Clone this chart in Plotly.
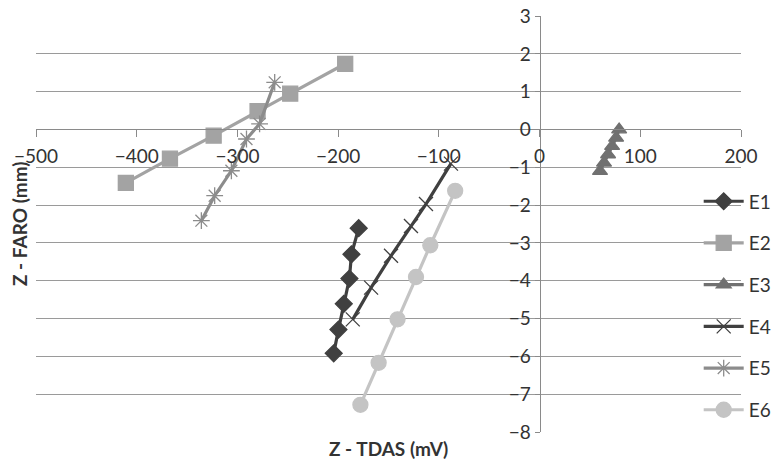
import plotly.graph_objects as go

# ---- data ----
e1_x = [-179.6, -186.8, -188.8, -194.4, -199.7, -204.4]
e1_y = [-2.61, -3.30, -3.94, -4.61, -5.29, -5.92]

e2_x = [-410.8, -367.0, -323.6, -280.0, -247.6, -193.0]
e2_y = [-1.41, -0.77, -0.16, 0.49, 0.95, 1.74]

e3_x = [79.0, 76.0, 72.0, 68.0, 64.0, 60.0]
e3_y = [0.0, -0.22, -0.44, -0.66, -0.88, -1.10]

e4_x = [-185.5, -167.3, -147.5, -127.7, -112.8, -88.0]
e4_y = [-5.02, -4.18, -3.34, -2.55, -1.97, -0.90]

e5_x = [-335.8, -322.6, -306.0, -291.0, -278.0, -263.0]
e5_y = [-2.41, -1.75, -1.09, -0.25, 0.15, 1.25]

e6_x = [-177.9, -159.8, -141.0, -122.7, -108.5, -83.8]
e6_y = [-7.28, -6.17, -5.02, -3.90, -3.06, -1.62]

names = ["E1", "E2", "E3", "E4", "E5", "E6"]
xs = [e1_x, e2_x, e3_x, e4_x, e5_x, e6_x]
ys = [e1_y, e2_y, e3_y, e4_y, e5_y, e6_y]

x_range = [-500, 200]
y_range = [-8, 3]

# ---- styles ----
colors = ["#404040", "#a3a3a3", "#707070", "#404040", "#8c8c8c", "#c4c4c4"]
symbols = ["diamond", "square", "triangle-up", "x-thin-open", "asterisk-open", "circle"]
msizes = [13, 15, 13, 14, 14, 15]

FONT = "Lato"
TXT = "#333333"

fig = go.Figure()
for n, x, y, c, s, ms in zip(names, xs, ys, colors, symbols, msizes):
    fig.add_trace(go.Scatter(
        x=x, y=y, name=n, mode="lines+markers", legendgroup=n,
        line=dict(color=c, width=3.2),
        marker=dict(symbol=s, size=ms, color=c, line=dict(color=c, width=1.3)),
    ))

fig.update_layout(
    width=771, height=463,
    margin=dict(l=36, r=30, t=16, b=31, autoexpand=False),
    paper_bgcolor="white", plot_bgcolor="white",
    font=dict(family=FONT, size=19, color=TXT),
    showlegend=True,
    legend=dict(x=0.94, y=0.6, xanchor="left", yanchor="top",
                bgcolor="rgba(0,0,0,0)", tracegroupgap=14,
                itemwidth=40, font=dict(size=19, color=TXT)),
    xaxis=dict(
        range=x_range, dtick=100, showgrid=False, zeroline=False,
        showline=True, linecolor="#8a8a8a", linewidth=1,
        ticks="outside", ticklen=7, tickcolor="#8a8a8a",
        ticklabelstandoff=3, automargin=False,
        anchor="free", position=(0 - y_range[0]) / (y_range[1] - y_range[0]),
        domain=[0, 1],
    ),
    yaxis=dict(
        range=[y_range[0], y_range[1] + 0.004], tick0=0, dtick=1,
        showgrid=True, gridcolor="#9a9a9a", gridwidth=1,
        zeroline=False, showline=True, linecolor="#8a8a8a", linewidth=1,
        ticks="outside", ticklen=5, tickcolor="#8a8a8a", automargin=False,
        anchor="free", position=(0 - x_range[0]) / (x_range[1] - x_range[0]),
        domain=[0, 1],
    ),
    annotations=[
        dict(text="<b>Z - TDAS (mV)</b>", xref="paper", yref="paper",
             x=0.5, y=0, yshift=-16, showarrow=False, yanchor="middle",
             font=dict(size=19, color=TXT, family=FONT)),
        dict(text="<b>Z - FARO (mm)</b>", xref="paper", yref="paper",
             x=0, y=0.5, xshift=-17, showarrow=False, textangle=-90,
             xanchor="center", font=dict(size=19, color=TXT, family=FONT)),
    ],
)

fig.write_html("out.html")
